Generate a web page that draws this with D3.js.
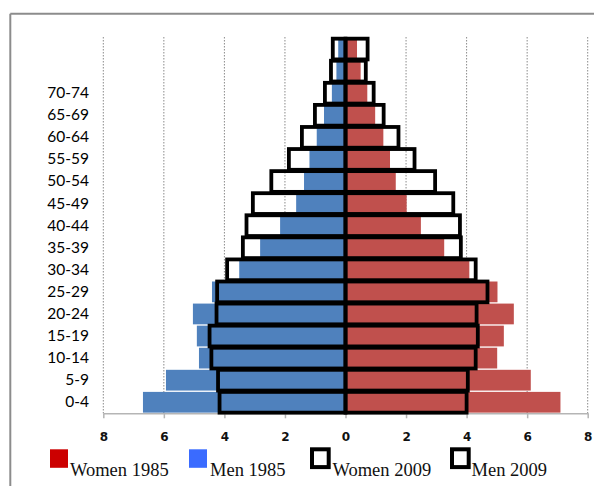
<!DOCTYPE html>
<html>
<head>
<meta charset="utf-8">
<script src="https://d3js.org/d3.v7.min.js"></script>
<style>
  html, body { margin: 0; padding: 0; background: #fff; }
  svg { display: block; }
</style>
</head>
<body>
<svg id="chart" width="594" height="486"></svg>
<script>
// ---- data (index 0 = youngest group, drawn at the bottom) ----
const ageGroups   = ["0-4","5-9","10-14","15-19","20-24","25-29","30-34","35-39","40-44","45-49","50-54","55-59","60-64","65-69","70-74","75-79","80+"];
const ageLabels   = ["0-4","5-9","10-14","15-19","20-24","25-29","30-34","35-39","40-44","45-49","50-54","55-59","60-64","65-69","70-74","",""];
const men1985     = [6.69, 5.93, 4.84, 4.91, 5.04, 4.41, 3.51, 2.82, 2.16, 1.63, 1.37, 1.19, 0.95, 0.71, 0.45, 0.30, 0.24];
const women1985   = [7.10, 6.12, 5.01, 5.23, 5.56, 5.02, 4.09, 3.26, 2.49, 2.02, 1.66, 1.47, 1.25, 0.98, 0.72, 0.50, 0.38];
const men2009     = [4.16, 4.21, 4.43, 4.49, 4.26, 4.24, 3.91, 3.39, 3.27, 3.06, 2.45, 1.87, 1.44, 1.01, 0.68, 0.48, 0.42];
const women2009   = [4.00, 4.04, 4.30, 4.37, 4.33, 4.69, 4.30, 3.81, 3.78, 3.56, 2.96, 2.28, 1.75, 1.26, 0.93, 0.67, 0.73];
const xTickValues = [-8, -6, -4, -2, 0, 2, 4, 6, 8];
const xTickLabels = ["8", "6", "4", "2", "0", "2", "4", "6", "8"];
const legendLabels = ["Women 1985", "Men 1985", "Women 2009", "Men 2009"];

// ---- drawing ----
const svg = d3.select("#chart");

const x = d3.scaleLinear().domain([-8, 8]).range([103.3, 587.7]);
const y = d3.scaleBand().domain(ageGroups).range([413.3, 38]).paddingInner(0.06).paddingOuter(0.03);

const COL_W = "#c0504d", COL_M = "#4f81bd";

// frame (left and top edges visible)
svg.append("line").attr("x1", 10.3).attr("x2", 10.3).attr("y1", 13.7).attr("y2", 486)
  .attr("stroke", "#8c8c8c").attr("stroke-width", 2);
svg.append("line").attr("x1", 10.3).attr("x2", 594).attr("y1", 13.7).attr("y2", 13.7)
  .attr("stroke", "#8c8c8c").attr("stroke-width", 2);

// gridlines
svg.append("g").selectAll("line")
  .data(xTickValues.filter(v => v !== 0))
  .join("line")
  .attr("x1", d => x(d)).attr("x2", d => x(d))
  .attr("y1", 37).attr("y2", 413.3)
  .attr("stroke", "#8a8a8a").attr("stroke-width", 1)
  .attr("stroke-dasharray", "1.5,1.5");

// bottom axis
const xAxis = d3.axisBottom(x)
  .tickValues(xTickValues)
  .tickFormat((d, i) => xTickLabels[i])
  .tickSize(5).tickSizeOuter(0).tickPadding(14.4);
const gx = svg.append("g").attr("transform", "translate(0,413.3)").call(xAxis);
gx.select(".domain").attr("stroke", "#b5b5b5").attr("stroke-width", 1.5);
gx.selectAll(".tick line").attr("stroke", "#b5b5b5").attr("stroke-width", 1.5);
gx.selectAll(".tick text")
  .attr("font-family", "'DejaVu Sans', sans-serif").attr("font-weight", "bold")
  .attr("font-size", 12).attr("fill", "#111");

// 1985 filled bars
const rows = ageGroups.map((a, i) => ({ age: a, m85: men1985[i], w85: women1985[i], m09: men2009[i], w09: women2009[i] }));

svg.append("g").selectAll("rect")
  .data(rows).join("rect")
  .attr("x", d => x(-d.m85)).attr("width", d => x(0) - x(-d.m85))
  .attr("y", d => y(d.age)).attr("height", y.bandwidth())
  .attr("fill", COL_M);
svg.append("g").selectAll("rect")
  .data(rows).join("rect")
  .attr("x", x(0)).attr("width", d => x(d.w85) - x(0))
  .attr("y", d => y(d.age)).attr("height", y.bandwidth())
  .attr("fill", COL_W);

// 2009 outlined bars
svg.append("g").selectAll("rect")
  .data(rows).join("rect")
  .attr("x", d => x(-d.m09)).attr("width", d => x(0) - x(-d.m09))
  .attr("y", d => y(d.age)).attr("height", y.bandwidth())
  .attr("fill", "none").attr("stroke", "#000").attr("stroke-width", 3.8);
svg.append("g").selectAll("rect")
  .data(rows).join("rect")
  .attr("x", x(0)).attr("width", d => x(d.w09) - x(0))
  .attr("y", d => y(d.age)).attr("height", y.bandwidth())
  .attr("fill", "none").attr("stroke", "#000").attr("stroke-width", 3.8);

// age labels
const yAxis = d3.axisLeft(y)
  .tickFormat((d, i) => ageLabels[i])
  .tickSize(0).tickPadding(3);
const gy = svg.append("g").attr("transform", "translate(92,0)").call(yAxis);
gy.select(".domain").remove();
gy.selectAll(".tick text")
  .attr("font-family", "Lato, 'Open Sans', sans-serif")
  .attr("font-size", 15.5).attr("fill", "#000");

// legend
const legendSwatchX = [50, 189, 310, 450];
const legendTextX   = [70, 210, 332.5, 471.5];
const legendKind    = ["fill", "fill", "box", "box"];
const legendColors  = ["#cc0000", "#3a6bff", "#000", "#000"];
const lg = svg.append("g");
legendLabels.forEach((lab, i) => {
  if (legendKind[i] === "fill") {
    lg.append("rect").attr("x", legendSwatchX[i]).attr("y", 449.3)
      .attr("width", 18).attr("height", 18.5).attr("fill", legendColors[i]);
  } else {
    lg.append("rect").attr("x", legendSwatchX[i] + 2).attr("y", 449.3)
      .attr("width", 16.7).attr("height", 17.8)
      .attr("fill", "none").attr("stroke", legendColors[i]).attr("stroke-width", 4);
  }
  lg.append("text").attr("x", legendTextX[i]).attr("y", 476)
    .attr("font-family", "'Liberation Serif', 'Times New Roman', serif")
    .attr("font-size", 18.5).attr("fill", "#111").text(lab);
});
</script>
</body>
</html>
